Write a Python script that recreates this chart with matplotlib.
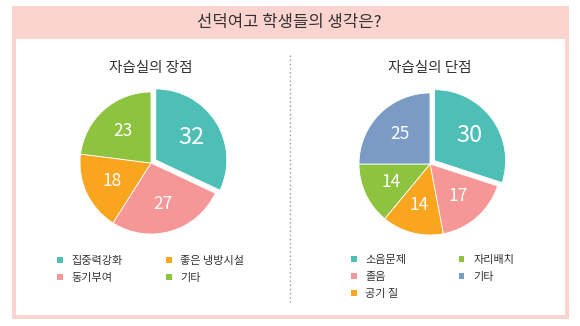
import matplotlib.pyplot as plt
from matplotlib.patches import Rectangle

plt.rcParams['font.family'] = ['Noto Sans CJK KR', 'DejaVu Sans']

title = '선덕여고 학생들의 생각은?'

pro_title = '자습실의 장점'
pro_labels = ['집중력강화', '동기부여', '좋은 냉방시설', '기타']
pro_values = [32, 27, 18, 23]

con_title = '자습실의 단점'
con_labels = ['소음문제', '졸음', '공기 질', '자리배치', '기타']
con_values = [30, 17, 14, 14, 25]

TEAL, PINK, ORANGE, GREEN, BLUE = '#4DBFB7', '#F49796', '#F9A51E', '#8DC33F', '#7A9CC4'
pro_colors = [TEAL, PINK, ORANGE, GREEN]
con_colors = [TEAL, PINK, ORANGE, GREEN, BLUE]

FRAME = '#FBD3CF'
TEXT = '#333333'
W, H = 580, 326

fig = plt.figure(figsize=(W / 100, H / 100), dpi=100)
fig.patch.set_facecolor('white')

# background layer in pixel coordinates
bg = fig.add_axes([0, 0, 1, 1])
bg.set_xlim(0, W)
bg.set_ylim(H, 0)
bg.axis('off')
bg.add_patch(Rectangle((12, 6), 557, 313, facecolor=FRAME, edgecolor='none'))
bg.add_patch(Rectangle((16, 39), 549, 276, facecolor='white', edgecolor='none'))
bg.plot([290, 290], [55, 302], color='#9a9a9a', lw=1.0, linestyle=(0, (1, 2)))
bg.text(289, 22, title, ha='center', va='center', fontsize=12, color=TEXT)


def draw_pie(cx, cy, values, colors, heading):
    r = 71
    size = 2.4 * r
    ax = fig.add_axes([(cx - size / 2) / W, (H - cy - size / 2) / H, size / W, size / H])
    explode = [0.08] + [0] * (len(values) - 1)
    wedges, texts = ax.pie(values, colors=colors, startangle=90, counterclock=False,
                           explode=explode, labels=[str(v) for v in values],
                           labeldistance=0.6,
                           wedgeprops=dict(edgecolor='white', linewidth=0.6))
    for i, t in enumerate(texts):
        t.set_ha('center')
        t.set_va('center')
        t.set_color('white')
        t.set_fontsize(17 if i == 0 else 12.5)
    ax.set_xlim(-1.2, 1.2)
    ax.set_ylim(-1.2, 1.2)
    ax.set_aspect('equal')
    bg.text(cx, 68, heading, ha='center', va='center', fontsize=10.5, color=TEXT)
    return wedges


pro_wedges = draw_pie(151, 163, pro_values, pro_colors, pro_title)
con_wedges = draw_pie(430, 164, con_values, con_colors, con_title)

legend_style = dict(ncol=2, frameon=False, fontsize=8, handlelength=0.5,
                    handleheight=0.5, handletextpad=0.8, labelspacing=0.62,
                    borderpad=0, borderaxespad=0, loc='upper left',
                    labelcolor=TEXT)

leg1 = fig.legend(pro_wedges, pro_labels, bbox_to_anchor=(57 / W, 1 - 256 / H),
                  columnspacing=3.9, **legend_style)
leg2 = fig.legend(con_wedges, con_labels, bbox_to_anchor=(351 / W, 1 - 255 / H),
                  columnspacing=4.7, **legend_style)
for leg in (leg1, leg2):
    for h in leg.legend_handles:
        h.set_edgecolor('none')

fig.savefig('out.png', dpi=100)
